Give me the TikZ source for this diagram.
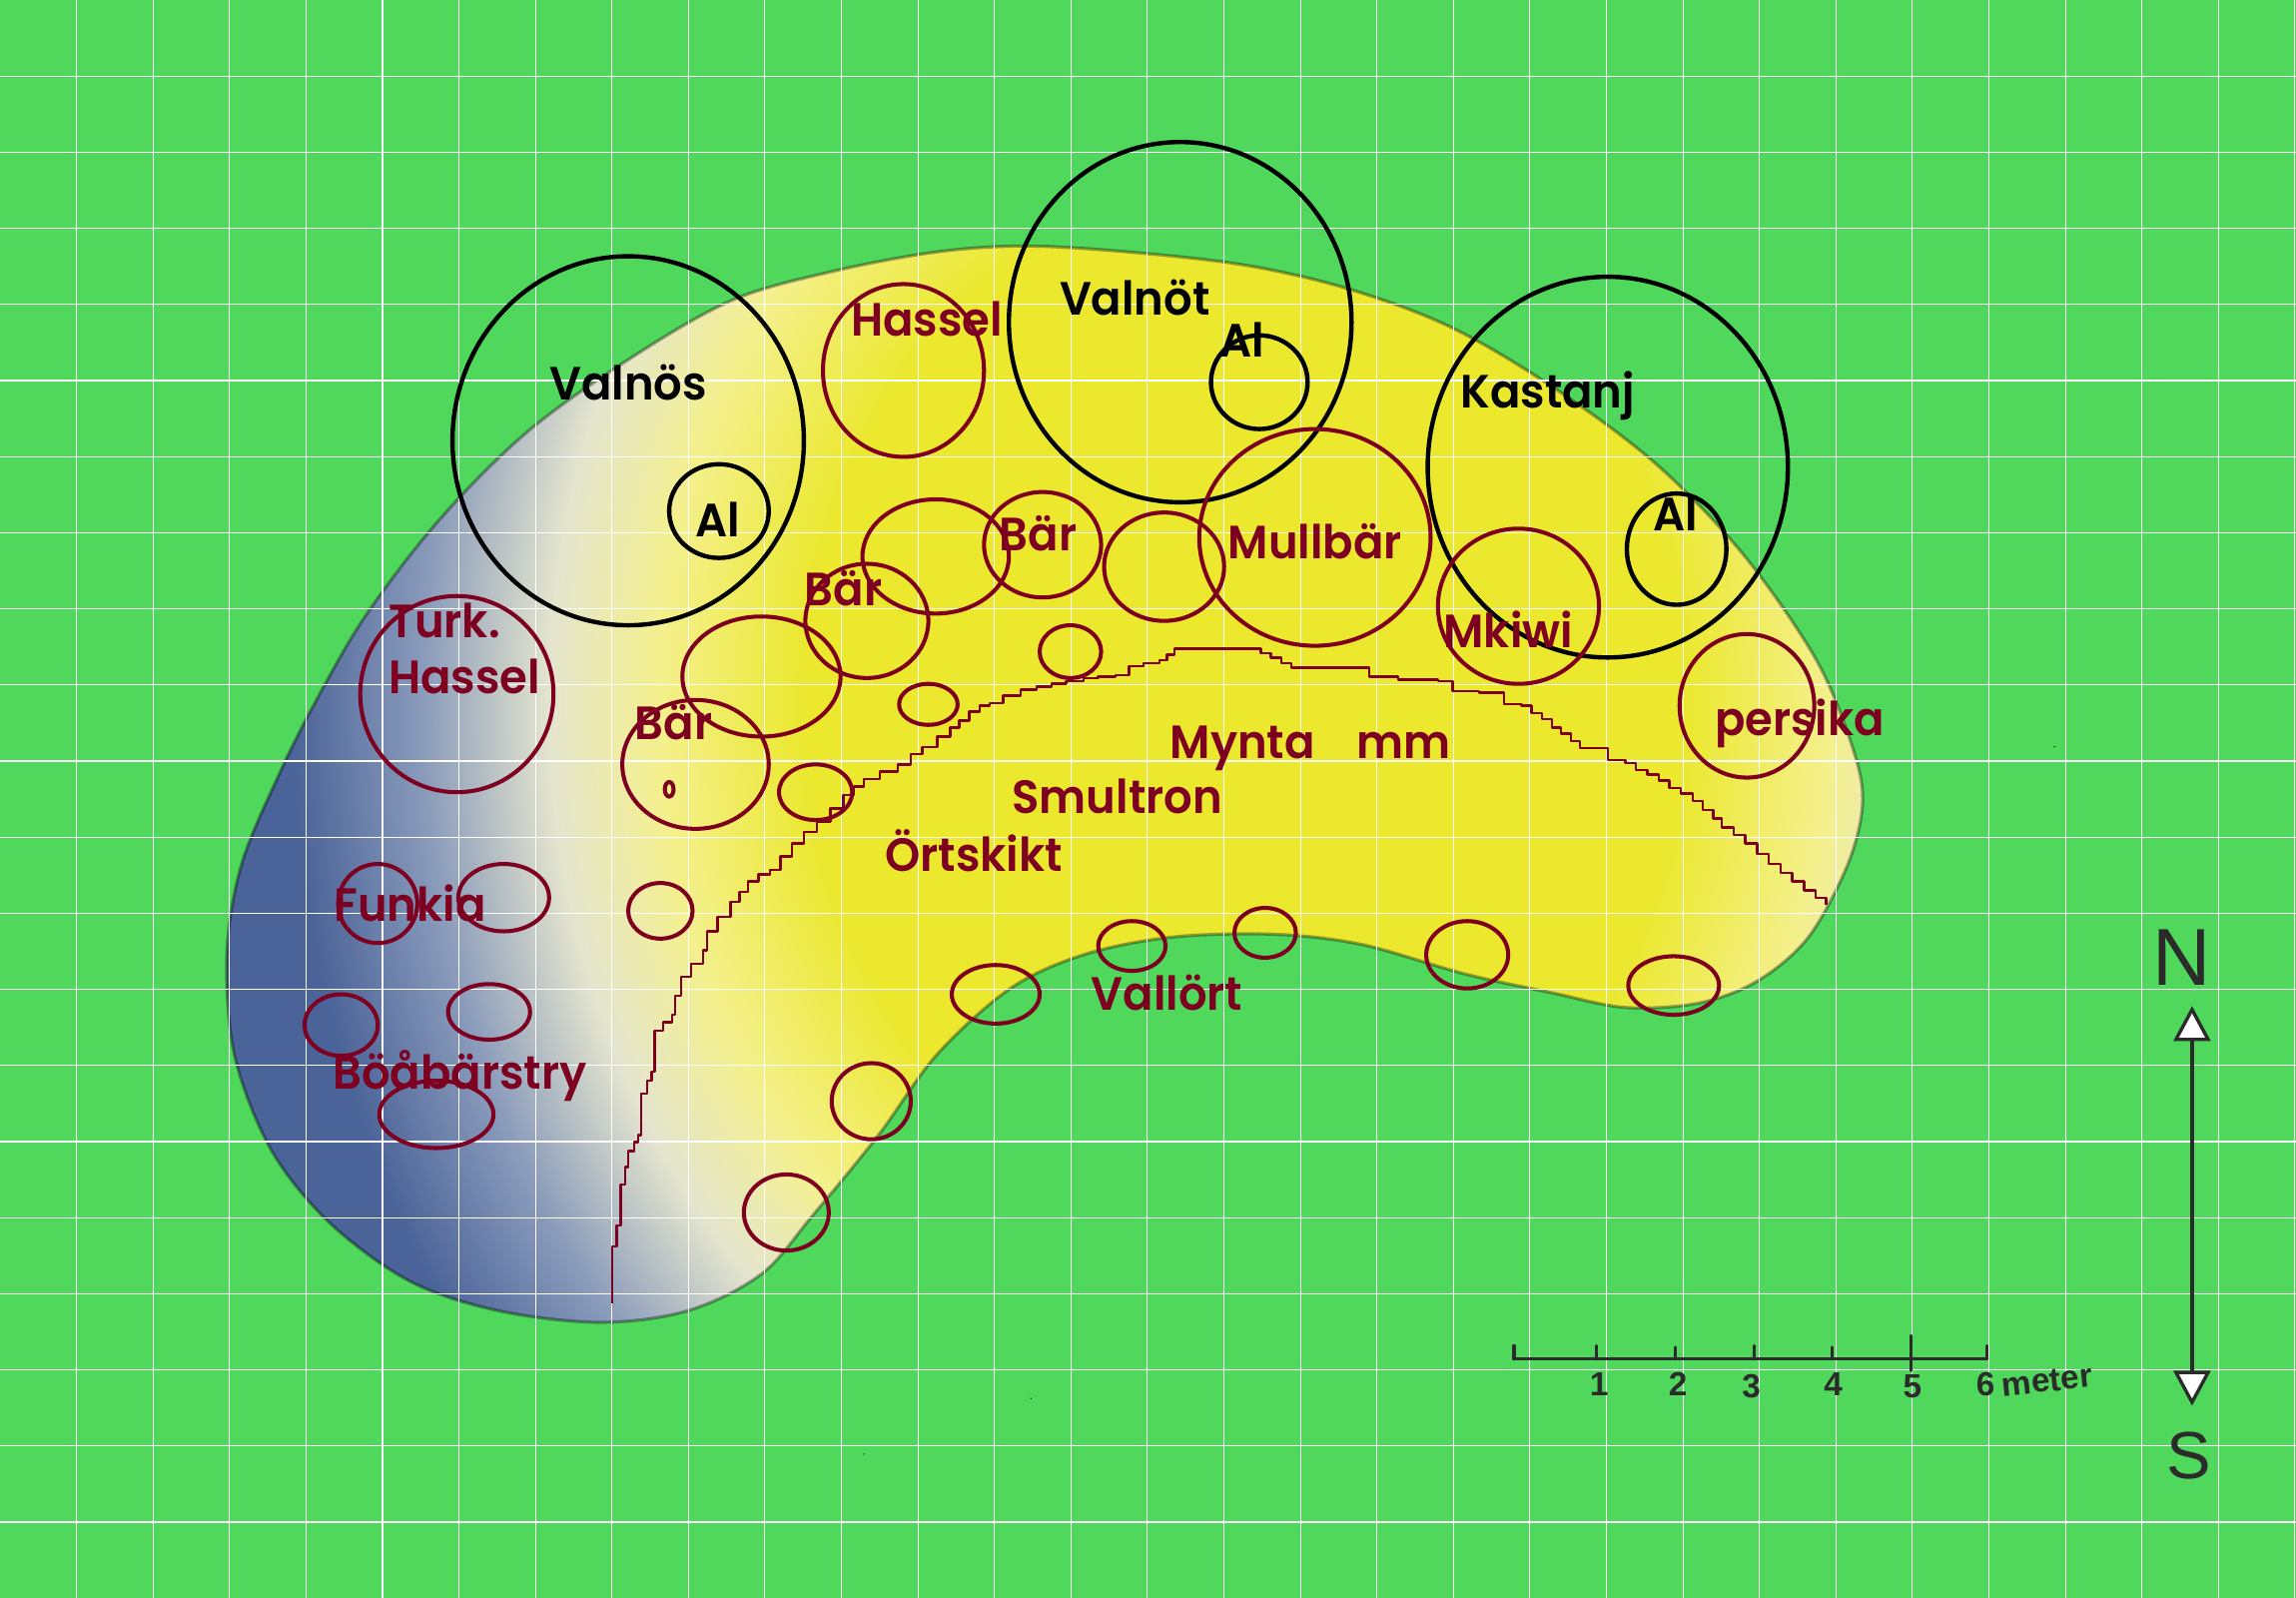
\documentclass[tikz,border=0pt]{standalone}
\usepackage{fontspec}
\setmainfont[BoldFont={Poppins SemiBold}, BoldFeatures={FakeStretch=0.96}]{Poppins}
\newfontfamily\handfont{Liberation Sans}
\usepackage{xcolor}
\usetikzlibrary{arrows.meta}

\definecolor{lawn}{HTML}{4FD85C}
\definecolor{bedyellow}{HTML}{EBE82E}
\definecolor{bedpale}{HTML}{F4F08C}
\definecolor{bedwhite}{HTML}{E4E5CE}
\definecolor{bedgrey}{HTML}{8A9BBB}
\definecolor{plantred}{HTML}{7D0020}
\definecolor{inkgrey}{HTML}{2B2B2B}
\definecolor{shadeblue}{HTML}{4A6398}

% Colours of the bed, from the sunny middle to the shaded west end
\pgfdeclareradialshading{bedshade}{\pgfpoint{0bp}{0bp}}{%
  color(0bp)=(bedyellow); color(8.33bp)=(bedyellow); color(11.1bp)=(bedpale);
  color(13.2bp)=(bedwhite); color(15.6bp)=(bedgrey); color(18.1bp)=(shadeblue); color(25bp)=(shadeblue)}

\tikzset{
  treering/.style={draw=black, line width=1.25pt},
  plantring/.style={draw=plantred, line width=1.15pt},
  bedline/.style={draw=plantred, line width=0.7pt},
  gridline/.style={draw=white, line width=0.3pt},
  treelabel/.style={text=black, font=\fontsize{13.3}{15.8}\selectfont\bfseries, inner sep=0pt},
  plantlabel/.style={text=plantred, font=\fontsize{13.3}{15.8}\selectfont\bfseries, inner sep=0pt},
  handlabel/.style={text=inkgrey, font=\handfont\bfseries\fontsize{9.5}{10}\selectfont, inner sep=0pt},
  handline/.style={draw=inkgrey, line width=0.95pt, line cap=round}
}

\newcommand{\bedoutline}{plot[smooth cycle, tension=0.55] coordinates {
  (155,650) (165,590) (190,530) (215,480) (250,420) (300,355) (360,295) (430,245)
  (500,205) (570,185) (640,172) (700,168) (770,172) (850,181) (920,197) (990,223)
  (1060,264) (1130,316) (1190,378) (1240,450) (1265,510) (1272,548) (1262,590)
  (1235,640) (1200,670) (1160,685) (1110,688) (1060,678) (1000,665) (930,645)
  (870,638) (800,640) (740,652) (690,675) (640,720) (600,775) (555,830) (520,870)
  (470,895) (410,903) (340,895) (280,875) (225,835) (185,785) (160,720)}}

\begin{document}
\begin{tikzpicture}[x=0.014662cm, y=-0.014662cm, line join=round]
        \useasboundingbox (0,0) rectangle (1568,1091.25);
        \fill[lawn] (0,0) rectangle (1568,1091.25);

        % Draw the bed
        \begin{scope}
            \clip \bedoutline;
            \path[shading=bedshade] (850,480) ellipse [x radius=900, y radius=1059];
        \end{scope}
        \draw[black, opacity=0.35, line width=0.9pt] \bedoutline;

        % Draw the grid
        \foreach \k in {1,...,30}
            \draw[gridline] ({\k*52.24},0) -- ({\k*52.24},1091.25);
        \foreach \k in {1,...,20}
            \draw[gridline] (0,{\k*51.97}) -- (1568,{\k*51.97});

        % Tree rings
        \foreach \x/\y/\a/\b in {429/301/120/126, 806/220/117/123, 1098/319/123/130,
                491/349/34/32, 860/261/33/32, 1145/375/34/38}
            \draw[treering] (\x,\y) ellipse [x radius=\a, y radius=\b];

        % Plant rings
        \foreach \x/\y/\a/\b in {617/253/55/59, 639/380/50/39, 712/372/40/36, 795/387/41/37,
                898/367/79/74, 1037/414/55/53, 1193/482/46/49, 592/424/42/39, 520/462/54/41,
                731/445/21/18, 634/481/20/14, 475/522/50/44, 457/539/3/5, 557/541/25/19,
                312/474/66/67, 258/617/27/27, 344/613/31/23, 451/622/22/19, 233/700/25/21,
                334/691/28/19, 298/761/39/23, 680/679/30/20, 773/646/23/17, 864/637/21/17,
                1002/652/28/23, 1143/673/31/20, 595/752/27/26, 537/828/29/26}
            \draw[plantring] (\x,\y) ellipse [x radius=\a, y radius=\b];

        % Herb layer edge
        \draw[bedline] (418,890) \foreach \x/\y in {418/851, 421/837, 424/822, 424/809, 427/797,
                429/786, 433/780, 436/775, 438/760, 438/747, 442/738, 445/732, 447/718, 447/704,
                453/698, 459/693, 461/680, 465/667, 472/658, 480/649, 483/636, 490/626, 499/616,
                505/609, 511/602, 518/597, 526/594, 533/585, 541/576, 549/568, 558/561, 567/552,
                576/543, 583/537, 590/532, 601/527, 613/522, 622/515, 630/510, 640/503, 649/497,
                655/492, 662/486, 669/482, 676/480, 685/475, 697/471, 708/469, 718/467, 728/465,
                740/463, 750/462, 762/461, 771/455, 781/453, 792/451, 797/447, 802/443, 842/443,
                861/446, 868/449, 875/453, 882/456, 928/456, 935/462, 955/464, 982/465, 992/472,
                1010/473, 1027/481, 1039/482, 1046/487, 1053/491, 1060/497, 1066/501, 1073/506,
                1079/511, 1090/511, 1098/519, 1110/521, 1117/526, 1125/529, 1133/533, 1140/538,
                1148/542, 1156/547, 1163/553, 1170/559, 1176/565, 1184/570, 1192/576, 1200/583,
                1208/590, 1216/596, 1224/602, 1232/608, 1240/613, 1247/618} { -| (\x,\y) };

        % Labels for the trees
        \node[treelabel] (valnos) at (429,261) {Valnös};
        \node[treelabel] (valnot) at (775,203) {Valnöt};
        \node[treelabel] (kastanj) at (1057,270) {Kastanj};
        \node[treelabel] (alwest) at (490,355) {Al};
        \node[treelabel] (almid) at (848,232) {Al};
        \node[treelabel] (aleast) at (1144,351) {Al};

        % Labels for the plants
        \node[plantlabel] (hassel) at (633,218) {Hassel};
        \node[plantlabel] (barnorth) at (709,364) {Bär};
        \node[plantlabel] (mullbar) at (898,370) {Mullbär};
        \node[plantlabel] (barmid) at (576,402) {Bär};
        \node[plantlabel] (mkiwi) at (1030,430) {Mkiwi};
        \node[plantlabel, align=left, anchor=west] (turk) at (265,443) {Turk.\\Hassel};
        \node[plantlabel] (barwest) at (460,493) {Bär};
        \node[plantlabel] (mynta) at (895,511) {Mynta\hspace{0.9em}mm};
        \node[plantlabel] (persika) at (1229,494) {persika};
        \node[plantlabel] (smultron) at (763,544) {Smultron};
        \node[plantlabel] (ortskikt) at (665,581) {Örtskikt};
        \node[plantlabel] (funkia) at (280,617) {Funkia};
        \node[plantlabel] (boabar) at (314,735) {Böåbärstry};
        \node[plantlabel] (vallort) at (797,678) {Vallört};

        % Scale bar
        \coordinate (scalestart) at (1034,928);
        \coordinate (scaleend) at (1357,928);
        \draw[handline] (scalestart) -- (scaleend);
        \foreach \x/\top/\bot in {1034/919/928, 1090/919/928, 1144/920/928, 1198/919/928,
                1251/920/928, 1305/912/936, 1357/919/928}
            \draw[handline] (\x,\top) -- (\x,\bot);
        \foreach \name/\x/\y/\val in {one/1092/945/1, two/1146/945/2, three/1196/947/3,
                four/1252/945/4, five/1306/947/5, six/1356/945/6}
            \node[handlabel] (\name) at (\x,\y) {\val};
        \node[handlabel, rotate=6] (meter) at (1398,943) {meter};

        % North arrow
        \coordinate (arrowtop) at (1497,687);
        \coordinate (arrowbottom) at (1497,960);
        \draw[handline, {Triangle[length=10pt,width=10.5pt,fill=white]}-{Triangle[length=10pt,width=10.5pt,fill=white]}] (arrowtop) -- (arrowbottom);
        \node[handlabel, font=\handfont\fontsize{23}{24}\selectfont] (north) at (1490,654) {N};
        \node[handlabel, font=\handfont\fontsize{19}{20}\selectfont] (south) at (1495,994) {S};

        % Specks
        \foreach \x/\y in {1403/510, 704/955, 590/993}
            \fill[black] (\x,\y) circle [radius=0.5];
\end{tikzpicture}
\end{document}
